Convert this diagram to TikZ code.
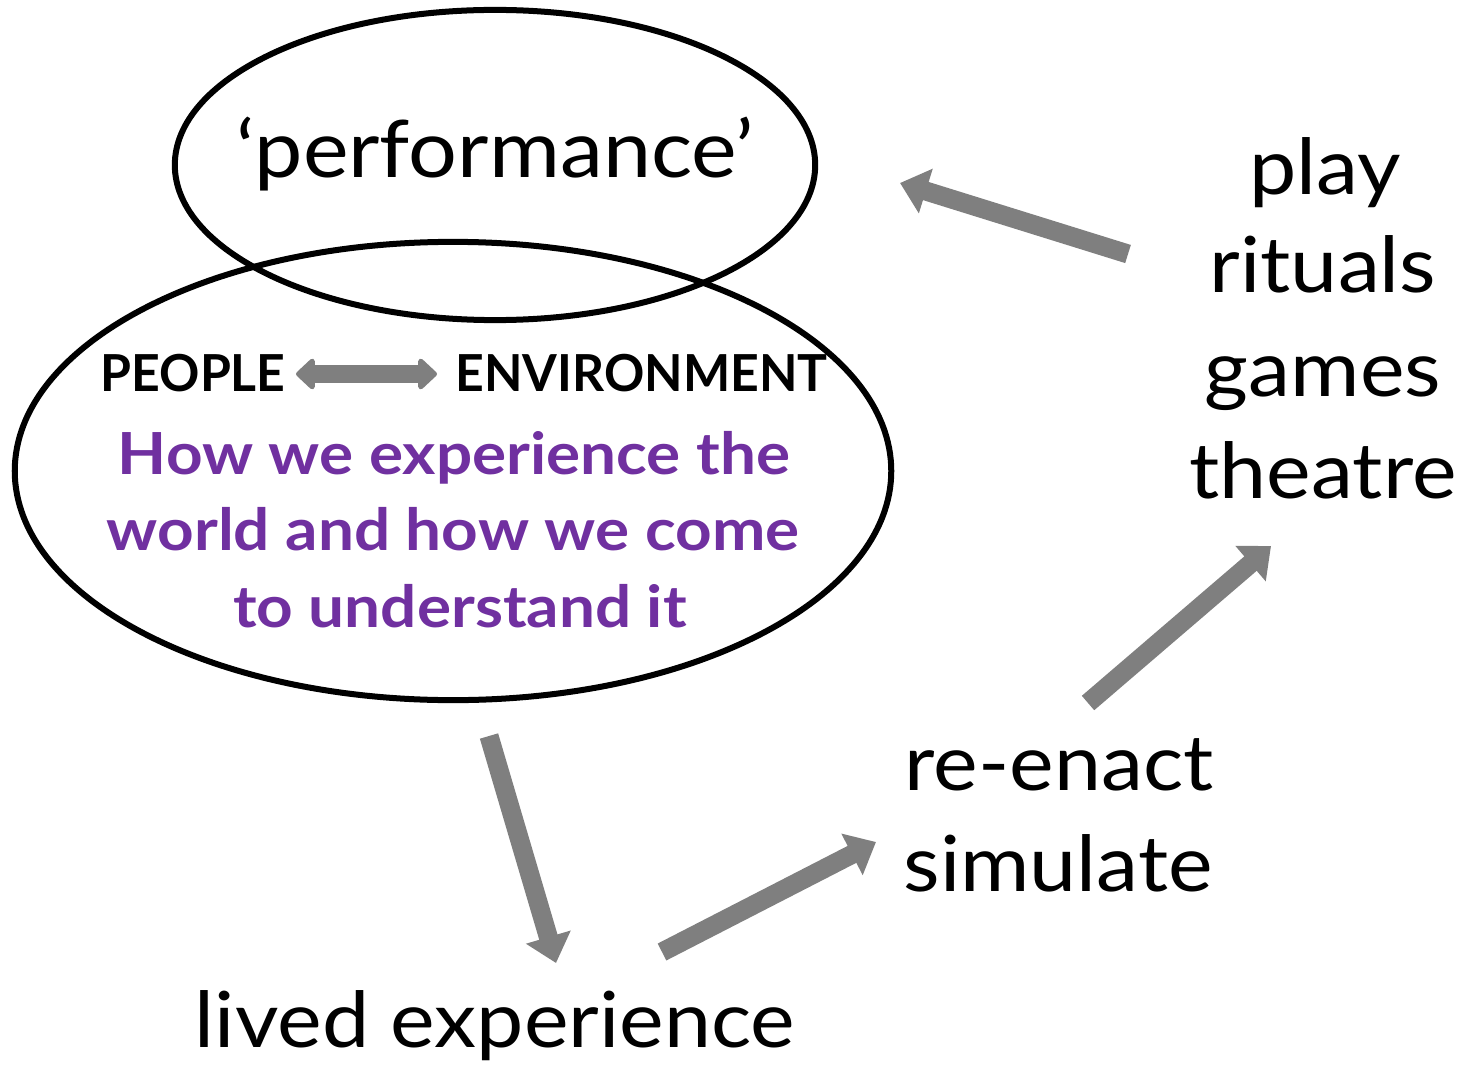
\documentclass[tikz,border=0pt]{standalone}
\usepackage{fontspec}
\setmainfont{Lato}
\newfontfamily\widefont{Lato}[FakeStretch=1.09]
\newfontfamily\purplefont{Lato}[FakeStretch=1.10]
\newfontfamily\capsfont{Lato}[FakeStretch=0.98]
\usetikzlibrary{arrows.meta}
\definecolor{arrowgray}{HTML}{7F7F7F}
\definecolor{txtpurple}{HTML}{7030A0}
\tikzset{
  bigtext/.style={font=\widefont\fontsize{22}{26}\selectfont, inner sep=0pt},
  perftext/.style={font=\widefont\fontsize{22.5}{26}\selectfont, inner sep=0pt},
  capstext/.style={font=\capsfont\fontsize{14.5}{17}\selectfont\bfseries, inner sep=0pt},
  purpletext/.style={font=\purplefont\fontsize{16.5}{20}\selectfont\bfseries, text=txtpurple, inner sep=0pt},
  ring/.style={draw=black, line width=0.06cm},
  fatarrow/.style={draw=arrowgray, line width=0.19cm, -{Triangle[width=0.45cm,length=0.27cm]}},
  duoarrow/.style={draw=arrowgray, line width=0.18cm, line join=round,
     {Triangle[width=0.36cm,length=0.2cm,round]}-{Triangle[width=0.36cm,length=0.2cm,round]}}
}
\begin{document}
\begin{tikzpicture}[x=0.01cm,y=-0.01cm]
\useasboundingbox (0,0) rectangle (1471,1064);
% ellipses
\draw[ring] (495,165) ellipse [x radius=3.2cm, y radius=1.55cm];
\draw[ring] (453,471) ellipse [x radius=4.38cm, y radius=2.29cm];
% texts
\node[perftext, anchor=base] (perf) at (495,178) {‘performance’};
\node[capstext, anchor=base west] (people) at (100,391) {PEOPLE};
\node[capstext, anchor=base west] (env) at (455,391) {ENVIRONMENT};
\node[purpletext, anchor=base] (l1) at (454,474) {How we experience the};
\node[purpletext, anchor=base] (l2) at (453,550) {world and how we come};
\node[purpletext, anchor=base] (l3) at (460,627) {to understand it};
\node[bigtext, anchor=base] (play) at (1325,195) {play};
\node[bigtext, anchor=base] (rituals) at (1323,293) {rituals};
\node[bigtext, anchor=base] (games) at (1323,396) {games};
\node[bigtext, anchor=base] (theatre) at (1323,498) {theatre};
\node[bigtext, anchor=base] (reenact) at (1059,790) {re-enact};
\node[bigtext, anchor=base] (simulate) at (1058,891) {simulate};
\node[bigtext, anchor=base] (lived) at (495,1047) {lived experience};
% connector end points
\coordinate (a1s) at (1128,254);
\coordinate (a1e) at (900,183);
\coordinate (a2s) at (489,736);
\coordinate (a2e) at (556,963);
\coordinate (a3s) at (662,952);
\coordinate (a3e) at (876,842);
\coordinate (a4s) at (1088,703);
\coordinate (a4e) at (1271,546);
\coordinate (d1) at (296,374);
\coordinate (d2) at (437,374);
% connectors
\draw[fatarrow] (a1s) -- (a1e);
\draw[fatarrow] (a2s) -- (a2e);
\draw[fatarrow] (a3s) -- (a3e);
\draw[fatarrow] (a4s) -- (a4e);
\draw[duoarrow] (d1) -- (d2);
\end{tikzpicture}
\end{document}
